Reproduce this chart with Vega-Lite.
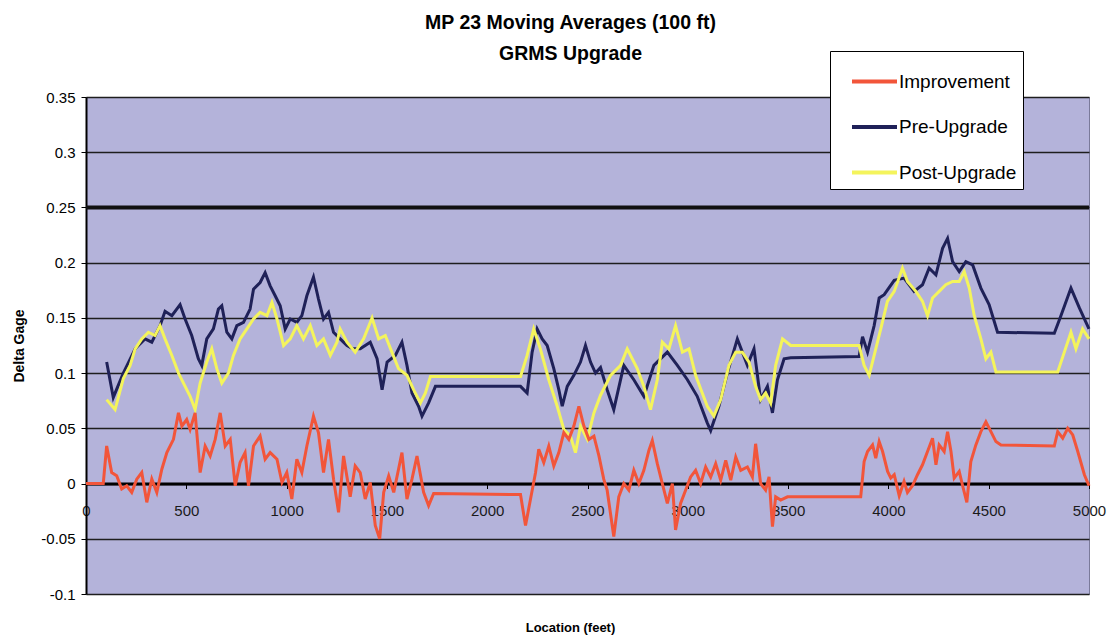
{
  "$schema": "https://vega.github.io/schema/vega-lite/v6.json",
  "width": 1003,
  "height": 497,
  "autosize": {"type": "none"},
  "padding": {"left": 86, "top": 97, "right": 20, "bottom": 49},
  "background": "white",
  "config": {
    "view": {"fill": "#B4B3DA", "stroke": "#7a7a9a", "strokeWidth": 1},
    "font": "Liberation Sans"
  },
  "title": {
    "text": ["MP 23 Moving Averages (100 ft)", "GRMS Upgrade"],
    "font": "Liberation Sans",
    "fontSize": 19.5,
    "fontWeight": "bold",
    "lineHeight": 31,
    "anchor": "middle",
    "frame": "group",
    "dx": -17,
    "offset": -14,
    "color": "black"
  },
  "datasets": {
    "pre": [
      {"location":103,"delta":0.110},{"location":136,"delta":0.078},{"location":186,"delta":0.100},{"location":245,"delta":0.122},{"location":294,"delta":0.131},{"location":328,"delta":0.128},{"location":369,"delta":0.143},{"location":394,"delta":0.156},{"location":428,"delta":0.152},{"location":469,"delta":0.162},{"location":494,"delta":0.149},{"location":527,"delta":0.134},{"location":560,"delta":0.113},{"location":577,"delta":0.107},{"location":602,"delta":0.131},{"location":635,"delta":0.140},{"location":660,"delta":0.158},{"location":677,"delta":0.161},{"location":702,"delta":0.137},{"location":727,"delta":0.131},{"location":752,"delta":0.143},{"location":785,"delta":0.146},{"location":818,"delta":0.158},{"location":835,"delta":0.176},{"location":868,"delta":0.182},{"location":893,"delta":0.191},{"location":918,"delta":0.179},{"location":943,"delta":0.170},{"location":968,"delta":0.161},{"location":993,"delta":0.140},{"location":1018,"delta":0.149},{"location":1051,"delta":0.146},{"location":1076,"delta":0.152},{"location":1101,"delta":0.170},{"location":1134,"delta":0.187},{"location":1159,"delta":0.167},{"location":1184,"delta":0.149},{"location":1209,"delta":0.155},{"location":1234,"delta":0.137},{"location":1267,"delta":0.131},{"location":1301,"delta":0.125},{"location":1330,"delta":0.122},{"location":1367,"delta":0.122},{"location":1417,"delta":0.128},{"location":1451,"delta":0.113},{"location":1476,"delta":0.085},{"location":1501,"delta":0.110},{"location":1542,"delta":0.116},{"location":1575,"delta":0.128},{"location":1600,"delta":0.107},{"location":1625,"delta":0.082},{"location":1658,"delta":0.070},{"location":1675,"delta":0.061},{"location":1708,"delta":0.073},{"location":1742,"delta":0.088},{"location":2166,"delta":0.088},{"location":2199,"delta":0.082},{"location":2224,"delta":0.119},{"location":2249,"delta":0.140},{"location":2274,"delta":0.131},{"location":2299,"delta":0.125},{"location":2332,"delta":0.104},{"location":2357,"delta":0.085},{"location":2374,"delta":0.070},{"location":2399,"delta":0.088},{"location":2432,"delta":0.098},{"location":2465,"delta":0.110},{"location":2490,"delta":0.125},{"location":2515,"delta":0.110},{"location":2540,"delta":0.100},{"location":2565,"delta":0.105},{"location":2598,"delta":0.085},{"location":2631,"delta":0.067},{"location":2681,"delta":0.107},{"location":2731,"delta":0.094},{"location":2781,"delta":0.079},{"location":2831,"delta":0.107},{"location":2898,"delta":0.119},{"location":2948,"delta":0.107},{"location":2998,"delta":0.094},{"location":3047,"delta":0.079},{"location":3097,"delta":0.055},{"location":3114,"delta":0.048},{"location":3155,"delta":0.070},{"location":3197,"delta":0.100},{"location":3247,"delta":0.131},{"location":3297,"delta":0.107},{"location":3330,"delta":0.122},{"location":3363,"delta":0.076},{"location":3397,"delta":0.088},{"location":3422,"delta":0.064},{"location":3447,"delta":0.094},{"location":3480,"delta":0.113},{"location":3513,"delta":0.114},{"location":3854,"delta":0.115},{"location":3871,"delta":0.133},{"location":3896,"delta":0.119},{"location":3929,"delta":0.143},{"location":3954,"delta":0.168},{"location":3979,"delta":0.171},{"location":4029,"delta":0.184},{"location":4078,"delta":0.186},{"location":4128,"delta":0.174},{"location":4170,"delta":0.180},{"location":4203,"delta":0.195},{"location":4237,"delta":0.189},{"location":4270,"delta":0.213},{"location":4295,"delta":0.222},{"location":4320,"delta":0.201},{"location":4353,"delta":0.192},{"location":4386,"delta":0.201},{"location":4420,"delta":0.198},{"location":4461,"delta":0.177},{"location":4502,"delta":0.162},{"location":4544,"delta":0.137},{"location":4827,"delta":0.136},{"location":4860,"delta":0.152},{"location":4910,"delta":0.177},{"location":4952,"delta":0.159},{"location":4985,"delta":0.146},{"location":5000,"delta":0.140}
    ],
    "post": [
      {"location":103,"delta":0.076},{"location":145,"delta":0.067},{"location":186,"delta":0.095},{"location":220,"delta":0.107},{"location":245,"delta":0.122},{"location":278,"delta":0.131},{"location":311,"delta":0.137},{"location":344,"delta":0.134},{"location":369,"delta":0.143},{"location":394,"delta":0.131},{"location":428,"delta":0.116},{"location":461,"delta":0.100},{"location":494,"delta":0.088},{"location":519,"delta":0.079},{"location":544,"delta":0.067},{"location":569,"delta":0.091},{"location":602,"delta":0.110},{"location":627,"delta":0.122},{"location":652,"delta":0.104},{"location":677,"delta":0.091},{"location":710,"delta":0.100},{"location":735,"delta":0.116},{"location":768,"delta":0.131},{"location":802,"delta":0.140},{"location":835,"delta":0.149},{"location":868,"delta":0.155},{"location":902,"delta":0.152},{"location":927,"delta":0.164},{"location":952,"delta":0.149},{"location":985,"delta":0.125},{"location":1018,"delta":0.131},{"location":1051,"delta":0.143},{"location":1084,"delta":0.131},{"location":1118,"delta":0.143},{"location":1151,"delta":0.125},{"location":1184,"delta":0.131},{"location":1218,"delta":0.116},{"location":1251,"delta":0.128},{"location":1267,"delta":0.140},{"location":1301,"delta":0.128},{"location":1342,"delta":0.119},{"location":1384,"delta":0.131},{"location":1426,"delta":0.150},{"location":1459,"delta":0.131},{"location":1492,"delta":0.134},{"location":1525,"delta":0.119},{"location":1558,"delta":0.104},{"location":1600,"delta":0.098},{"location":1633,"delta":0.085},{"location":1667,"delta":0.073},{"location":1692,"delta":0.082},{"location":1717,"delta":0.097},{"location":2166,"delta":0.097},{"location":2199,"delta":0.116},{"location":2232,"delta":0.140},{"location":2265,"delta":0.122},{"location":2307,"delta":0.094},{"location":2349,"delta":0.070},{"location":2382,"delta":0.049},{"location":2415,"delta":0.043},{"location":2440,"delta":0.028},{"location":2465,"delta":0.052},{"location":2499,"delta":0.040},{"location":2532,"delta":0.064},{"location":2565,"delta":0.080},{"location":2615,"delta":0.098},{"location":2665,"delta":0.107},{"location":2698,"delta":0.122},{"location":2748,"delta":0.104},{"location":2781,"delta":0.088},{"location":2814,"delta":0.067},{"location":2848,"delta":0.094},{"location":2873,"delta":0.128},{"location":2906,"delta":0.122},{"location":2939,"delta":0.143},{"location":2973,"delta":0.119},{"location":3006,"delta":0.122},{"location":3039,"delta":0.098},{"location":3072,"delta":0.082},{"location":3097,"delta":0.070},{"location":3130,"delta":0.061},{"location":3164,"delta":0.076},{"location":3205,"delta":0.107},{"location":3239,"delta":0.119},{"location":3272,"delta":0.119},{"location":3305,"delta":0.110},{"location":3338,"delta":0.088},{"location":3363,"delta":0.076},{"location":3388,"delta":0.082},{"location":3413,"delta":0.073},{"location":3438,"delta":0.107},{"location":3472,"delta":0.131},{"location":3513,"delta":0.125},{"location":3854,"delta":0.125},{"location":3879,"delta":0.107},{"location":3904,"delta":0.098},{"location":3929,"delta":0.116},{"location":3962,"delta":0.140},{"location":3995,"delta":0.165},{"location":4029,"delta":0.174},{"location":4070,"delta":0.195},{"location":4095,"delta":0.183},{"location":4137,"delta":0.174},{"location":4170,"delta":0.165},{"location":4195,"delta":0.152},{"location":4220,"delta":0.168},{"location":4253,"delta":0.174},{"location":4286,"delta":0.180},{"location":4320,"delta":0.183},{"location":4353,"delta":0.183},{"location":4378,"delta":0.192},{"location":4403,"delta":0.177},{"location":4428,"delta":0.152},{"location":4461,"delta":0.131},{"location":4486,"delta":0.113},{"location":4511,"delta":0.119},{"location":4536,"delta":0.101},{"location":4844,"delta":0.101},{"location":4877,"delta":0.119},{"location":4910,"delta":0.137},{"location":4935,"delta":0.122},{"location":4968,"delta":0.140},{"location":5000,"delta":0.131}
    ],
    "imp": [
      {"location":0,"delta":0},{"location":86,"delta":0},{"location":103,"delta":0.034},{"location":128,"delta":0.010},{"location":153,"delta":0.007},{"location":178,"delta":-0.005},{"location":203,"delta":-0.002},{"location":228,"delta":-0.008},{"location":253,"delta":0.004},{"location":278,"delta":0.010},{"location":303,"delta":-0.017},{"location":328,"delta":0.004},{"location":353,"delta":-0.008},{"location":378,"delta":0.013},{"location":403,"delta":0.028},{"location":436,"delta":0.040},{"location":461,"delta":0.064},{"location":478,"delta":0.052},{"location":502,"delta":0.058},{"location":519,"delta":0.049},{"location":544,"delta":0.064},{"location":569,"delta":0.010},{"location":594,"delta":0.034},{"location":619,"delta":0.025},{"location":644,"delta":0.040},{"location":669,"delta":0.064},{"location":694,"delta":0.034},{"location":719,"delta":0.040},{"location":744,"delta":-0.002},{"location":768,"delta":0.019},{"location":793,"delta":0.028},{"location":810,"delta":-0.002},{"location":835,"delta":0.034},{"location":868,"delta":0.043},{"location":893,"delta":0.022},{"location":918,"delta":0.028},{"location":952,"delta":0.022},{"location":977,"delta":0.001},{"location":1001,"delta":0.010},{"location":1026,"delta":-0.014},{"location":1051,"delta":0.022},{"location":1076,"delta":0.010},{"location":1101,"delta":0.034},{"location":1134,"delta":0.061},{"location":1159,"delta":0.046},{"location":1184,"delta":0.010},{"location":1209,"delta":0.040},{"location":1234,"delta":0.004},{"location":1259,"delta":-0.026},{"location":1284,"delta":0.025},{"location":1317,"delta":-0.012},{"location":1342,"delta":0.016},{"location":1367,"delta":0.010},{"location":1392,"delta":-0.014},{"location":1417,"delta":0.001},{"location":1442,"delta":-0.038},{"location":1464,"delta":-0.050},{"location":1484,"delta":-0.008},{"location":1509,"delta":0.007},{"location":1534,"delta":-0.008},{"location":1558,"delta":0.013},{"location":1575,"delta":0.028},{"location":1600,"delta":-0.014},{"location":1625,"delta":0.004},{"location":1650,"delta":0.025},{"location":1683,"delta":-0.008},{"location":1708,"delta":-0.020},{"location":1733,"delta":-0.009},{"location":2166,"delta":-0.010},{"location":2191,"delta":-0.038},{"location":2216,"delta":-0.014},{"location":2241,"delta":0.010},{"location":2257,"delta":0.031},{"location":2282,"delta":0.019},{"location":2307,"delta":0.034},{"location":2332,"delta":0.016},{"location":2357,"delta":0.028},{"location":2382,"delta":0.046},{"location":2407,"delta":0.040},{"location":2432,"delta":0.052},{"location":2457,"delta":0.070},{"location":2482,"delta":0.052},{"location":2507,"delta":0.040},{"location":2532,"delta":0.043},{"location":2557,"delta":0.025},{"location":2581,"delta":0.004},{"location":2598,"delta":-0.006},{"location":2631,"delta":-0.048},{"location":2656,"delta":-0.012},{"location":2681,"delta":0},{"location":2706,"delta":-0.006},{"location":2731,"delta":0.012},{"location":2756,"delta":0},{"location":2781,"delta":0.012},{"location":2806,"delta":0.030},{"location":2823,"delta":0.039},{"location":2848,"delta":0.018},{"location":2873,"delta":0},{"location":2898,"delta":-0.018},{"location":2923,"delta":0},{"location":2939,"delta":-0.042},{"location":2964,"delta":-0.018},{"location":2989,"delta":-0.006},{"location":3014,"delta":0.006},{"location":3039,"delta":0.012},{"location":3064,"delta":0},{"location":3089,"delta":0.015},{"location":3114,"delta":0.006},{"location":3139,"delta":0.018},{"location":3164,"delta":0.003},{"location":3189,"delta":0.021},{"location":3214,"delta":0.003},{"location":3239,"delta":0.024},{"location":3264,"delta":0.012},{"location":3297,"delta":0.015},{"location":3322,"delta":0.006},{"location":3338,"delta":0.036},{"location":3363,"delta":0},{"location":3388,"delta":-0.006},{"location":3405,"delta":0.006},{"location":3422,"delta":-0.039},{"location":3438,"delta":-0.012},{"location":3463,"delta":-0.015},{"location":3497,"delta":-0.012},{"location":3862,"delta":-0.012},{"location":3879,"delta":0.020},{"location":3896,"delta":0.029},{"location":3921,"delta":0.035},{"location":3937,"delta":0.023},{"location":3954,"delta":0.038},{"location":3971,"delta":0.029},{"location":3996,"delta":0.011},{"location":4012,"delta":0.005},{"location":4029,"delta":0.008},{"location":4054,"delta":-0.011},{"location":4078,"delta":0.002},{"location":4095,"delta":-0.008},{"location":4120,"delta":-0.002},{"location":4145,"delta":0.008},{"location":4170,"delta":0.017},{"location":4195,"delta":0.029},{"location":4220,"delta":0.041},{"location":4237,"delta":0.017},{"location":4253,"delta":0.035},{"location":4278,"delta":0.029},{"location":4295,"delta":0.047},{"location":4312,"delta":0.029},{"location":4328,"delta":0.005},{"location":4353,"delta":0.011},{"location":4370,"delta":-0.002},{"location":4391,"delta":-0.017},{"location":4411,"delta":0.020},{"location":4436,"delta":0.035},{"location":4461,"delta":0.047},{"location":4486,"delta":0.056},{"location":4511,"delta":0.047},{"location":4536,"delta":0.038},{"location":4561,"delta":0.035},{"location":4827,"delta":0.034},{"location":4844,"delta":0.047},{"location":4869,"delta":0.041},{"location":4894,"delta":0.050},{"location":4919,"delta":0.044},{"location":4944,"delta":0.029},{"location":4977,"delta":0.008},{"location":5000,"delta":-0.002}
    ]
  },
  "layer": [
    {
      "data": {"values": [{"threshold": 0.25}]},
      "mark": {"type": "rule", "color": "#111111", "strokeWidth": 4},
      "encoding": {
        "y": {"field": "threshold", "type": "quantitative", "title": "Delta Gage",
              "scale": {"domain": [-0.1, 0.35], "nice": false, "zero": false}}
      }
    },
    {
      "data": {"name": "pre"},
      "transform": [{"calculate": "'Pre-Upgrade'", "as": "series"}],
      "mark": {"type": "line", "strokeWidth": 3},
      "encoding": {
        "x": {"field": "location", "type": "quantitative", "title": "Location (feet)",
              "scale": {"domain": [0, 5000], "nice": false},
              "axis": {"values": [0,500,1000,1500,2000,2500,3000,3500,4000,4500,5000], "format": "d",
                       "offset": -110.5, "grid": false, "domainColor": "black", "domainWidth": 3,
                       "tickColor": "black", "tickSize": 5, "labelFontSize": 15, "labelPadding": 15,
                       "labelColor": "#1a1a1a", "labelFlush": false, "titleFontSize": 13, "titleFontWeight": "bold",
                       "titleColor": "black", "titleY": 138, "titleX": 484}},
        "y": {"field": "delta", "type": "quantitative", "title": "Delta Gage",
              "scale": {"domain": [-0.1, 0.35], "nice": false, "zero": false},
              "axis": {"values": [-0.1,-0.05,0,0.05,0.1,0.15,0.2,0.25,0.3,0.35],
                       "labelExpr": "replace(format(datum.value, '~g'), '\u2212', '-')",
                       "grid": true, "gridColor": "#1e1e1e", "gridWidth": 1.5,
                       "domainColor": "black", "domainWidth": 2, "tickColor": "black", "tickSize": 5,
                       "labelFontSize": 15, "labelColor": "black", "labelPadding": 6,
                       "titleFontSize": 14, "titleFontWeight": "bold", "titleColor": "black", "titlePadding": 14}},
        "color": {"field": "series", "type": "nominal",
                  "scale": {"domain": ["Improvement", "Pre-Upgrade", "Post-Upgrade"], "range": ["#F2553A", "#1F2158", "#F4F45C"]},
                  "legend": {"orient": "none", "legendX": 744, "legendY": -46, "title": null,
                             "fillColor": "white", "strokeColor": "black", "padding": 6, "symbolOffset": 14,
                             "symbolType": "stroke", "symbolStrokeWidth": 4, "symbolSize": 2025,
                             "labelFontSize": 19, "labelColor": "black", "labelOffset": 0, "rowPadding": 10.5}}
      }
    },
    {
      "data": {"name": "post"},
      "transform": [{"calculate": "'Post-Upgrade'", "as": "series"}],
      "mark": {"type": "line", "strokeWidth": 3},
      "encoding": {
        "x": {"field": "location", "type": "quantitative"},
        "y": {"field": "delta", "type": "quantitative"},
        "color": {"field": "series", "type": "nominal"}
      }
    },
    {
      "data": {"name": "imp"},
      "transform": [{"calculate": "'Improvement'", "as": "series"}],
      "mark": {"type": "line", "strokeWidth": 3},
      "encoding": {
        "x": {"field": "location", "type": "quantitative"},
        "y": {"field": "delta", "type": "quantitative"},
        "color": {"field": "series", "type": "nominal"}
      }
    }
  ]
}
